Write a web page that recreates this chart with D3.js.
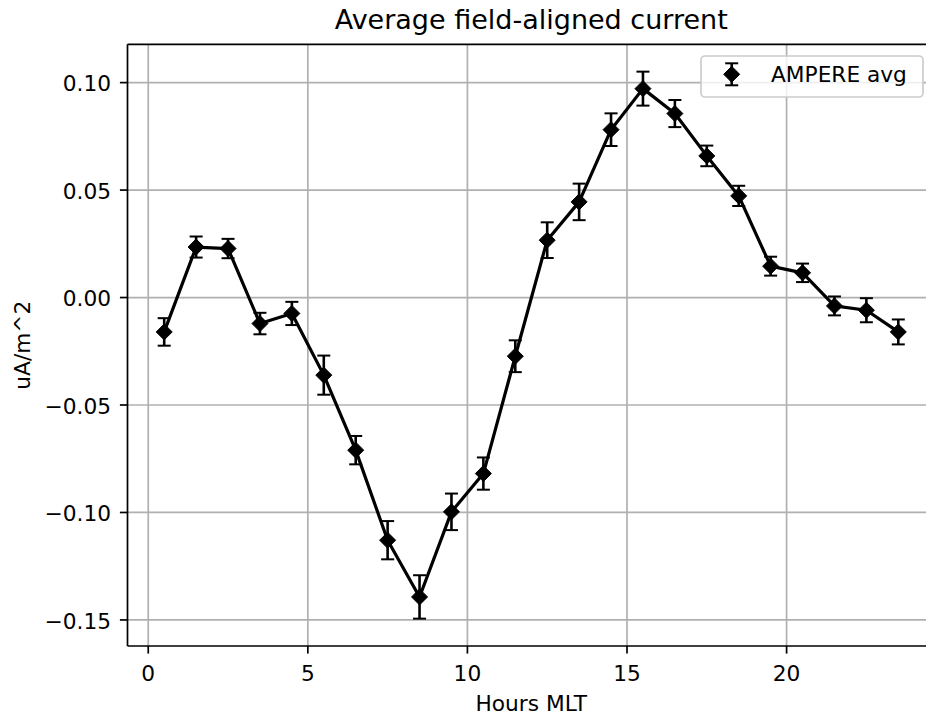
<!DOCTYPE html>
<html>
<head>
<meta charset="utf-8">
<script src="https://cdn.jsdelivr.net/npm/d3@7"></script>
<style>
  html, body { margin: 0; padding: 0; background: #fff; }
  svg { display: block; }
  text { font-family: "DejaVu Sans", sans-serif; fill: #000; }
</style>
</head>
<body>
<svg id="chart" width="926" height="715"></svg>
<script>
// ---- data ----
const hours = [0.5, 1.5, 2.5, 3.5, 4.5, 5.5, 6.5, 7.5, 8.5, 9.5, 10.5, 11.5,
               12.5, 13.5, 14.5, 15.5, 16.5, 17.5, 18.5, 19.5, 20.5, 21.5, 22.5, 23.5];
const current = [-0.0160, 0.0235, 0.0228, -0.0121, -0.0074, -0.0361, -0.0710, -0.1129,
                 -0.1393, -0.0997, -0.0819, -0.0273, 0.0267, 0.0445, 0.0781, 0.0972,
                 0.0856, 0.0659, 0.0473, 0.0146, 0.0115, -0.0039, -0.0059, -0.0160];
const errors = [0.0064, 0.0049, 0.0045, 0.0050, 0.0054, 0.0091, 0.0066, 0.0089,
                0.0101, 0.0085, 0.0075, 0.0074, 0.0083, 0.0085, 0.0076, 0.0079,
                0.0063, 0.0048, 0.0047, 0.0044, 0.0043, 0.0044, 0.0056, 0.0058];
const xTicks = [0, 5, 10, 15, 20];
const yTicks = [0.10, 0.05, 0.00, -0.05, -0.10, -0.15];
const titleText = "Average field-aligned current";
const xLabel = "Hours MLT";
const yLabel = "uA/m^2";
const legendLabel = "AMPERE avg";

// ---- layout ----
const L = 127.5, R = 935, T = 44.3, B = 646;
const svg = d3.select("#chart");

function padded(lo, hi) { const m = (hi - lo) * 0.05; return [lo - m, hi + m]; }
const xExt = d3.extent(hours);
const yLo = d3.min(current.map((v, i) => v - errors[i]));
const yHi = d3.max(current.map((v, i) => v + errors[i]));

const x = d3.scaleLinear().domain(padded(xExt[0], xExt[1])).range([L, R]);
const y = d3.scaleLinear().domain(padded(yLo, yHi)).range([B, T]);

const fmtMinus = v => { const s = d3.format(".2f")(Math.abs(v)); return (v < -1e-9 ? "\u2212" : "") + s; };

// grid
const g = svg.append("g");
g.selectAll(".gx").data(xTicks).enter().append("line")
  .attr("x1", d => x(d)).attr("x2", d => x(d)).attr("y1", T).attr("y2", B)
  .attr("stroke", "#b0b0b0").attr("stroke-width", 1.7);
g.selectAll(".gy").data(yTicks).enter().append("line")
  .attr("x1", L).attr("x2", R).attr("y1", d => y(d)).attr("y2", d => y(d))
  .attr("stroke", "#b0b0b0").attr("stroke-width", 1.7);

// error bars
const eb = svg.append("g").attr("stroke", "#000");
const capHalf = 6.5;
hours.forEach((h, i) => {
  const cx = x(h), y1 = y(current[i] + errors[i]), y2 = y(current[i] - errors[i]);
  eb.append("line").attr("x1", cx).attr("x2", cx).attr("y1", y1).attr("y2", y2).attr("stroke-width", 2.6);
  eb.append("line").attr("x1", cx - capHalf).attr("x2", cx + capHalf).attr("y1", y1).attr("y2", y1).attr("stroke-width", 2);
  eb.append("line").attr("x1", cx - capHalf).attr("x2", cx + capHalf).attr("y1", y2).attr("y2", y2).attr("stroke-width", 2);
});

// line
const line = d3.line().x((d, i) => x(hours[i])).y(d => y(d));
svg.append("path").datum(current).attr("d", line)
  .attr("fill", "none").attr("stroke", "#000").attr("stroke-width", 3.2).attr("stroke-linejoin", "round");

// diamonds
const dr = 8;
function diamond(cx, cy, r) { return `M${cx},${cy - r}L${cx + r},${cy}L${cx},${cy + r}L${cx - r},${cy}Z`; }
svg.append("g").selectAll("path").data(current).enter().append("path")
  .attr("d", (d, i) => diamond(x(hours[i]), y(d), dr))
  .attr("fill", "#000").attr("stroke", "#000").attr("stroke-width", 1);

// spines
svg.append("line").attr("x1", L).attr("x2", L).attr("y1", T).attr("y2", B).attr("stroke", "#000").attr("stroke-width", 1.7);
svg.append("line").attr("x1", L).attr("x2", R).attr("y1", B).attr("y2", B).attr("stroke", "#000").attr("stroke-width", 1.7);
svg.append("line").attr("x1", L).attr("x2", R).attr("y1", T).attr("y2", T).attr("stroke", "#000").attr("stroke-width", 1.7);
svg.append("line").attr("x1", R).attr("x2", R).attr("y1", T).attr("y2", B).attr("stroke", "#000").attr("stroke-width", 1.7);

// ticks
const fs = 21.7;
const ax = svg.append("g");
xTicks.forEach(t => {
  ax.append("line").attr("x1", x(t)).attr("x2", x(t)).attr("y1", B).attr("y2", B + 7.6).attr("stroke", "#000").attr("stroke-width", 1.7);
  ax.append("text").attr("x", x(t)).attr("y", 680.5).attr("text-anchor", "middle").attr("font-size", fs).text(d3.format("d")(t));
});
yTicks.forEach(t => {
  ax.append("line").attr("x1", L - 7.6).attr("x2", L).attr("y1", y(t)).attr("y2", y(t)).attr("stroke", "#000").attr("stroke-width", 1.7);
  ax.append("text").attr("x", 111).attr("y", y(t) + 8.6).attr("text-anchor", "end").attr("font-size", fs).text(fmtMinus(t));
});

// labels
svg.append("text").attr("x", (L + R) / 2).attr("y", 710.5).attr("text-anchor", "middle").attr("font-size", fs).text(xLabel);
svg.append("text").attr("transform", `translate(30,${(T + B) / 2}) rotate(-90)`).attr("text-anchor", "middle").attr("font-size", fs).text(yLabel);
svg.append("text").attr("x", (L + R) / 2).attr("y", 28.5).attr("text-anchor", "middle").attr("font-size", 27).text(titleText);

// legend
const lg = svg.append("g");
lg.append("rect").attr("x", 701).attr("y", 56).attr("width", 222).attr("height", 41).attr("rx", 4)
  .attr("fill", "#fff").attr("fill-opacity", 0.8).attr("stroke", "#cccccc").attr("stroke-width", 1.7);
const lx = 731.7, ly = 74.3;
lg.append("line").attr("x1", lx).attr("x2", lx).attr("y1", ly - 11).attr("y2", ly + 11).attr("stroke", "#000").attr("stroke-width", 2.6);
lg.append("line").attr("x1", lx - capHalf).attr("x2", lx + capHalf).attr("y1", ly - 11).attr("y2", ly - 11).attr("stroke", "#000").attr("stroke-width", 2);
lg.append("line").attr("x1", lx - capHalf).attr("x2", lx + capHalf).attr("y1", ly + 11).attr("y2", ly + 11).attr("stroke", "#000").attr("stroke-width", 2);
lg.append("path").attr("d", diamond(lx, ly, dr)).attr("fill", "#000").attr("stroke", "#000").attr("stroke-width", 1);
lg.append("text").attr("x", 771).attr("y", 82).attr("font-size", fs).text(legendLabel);
</script>
</body>
</html>
